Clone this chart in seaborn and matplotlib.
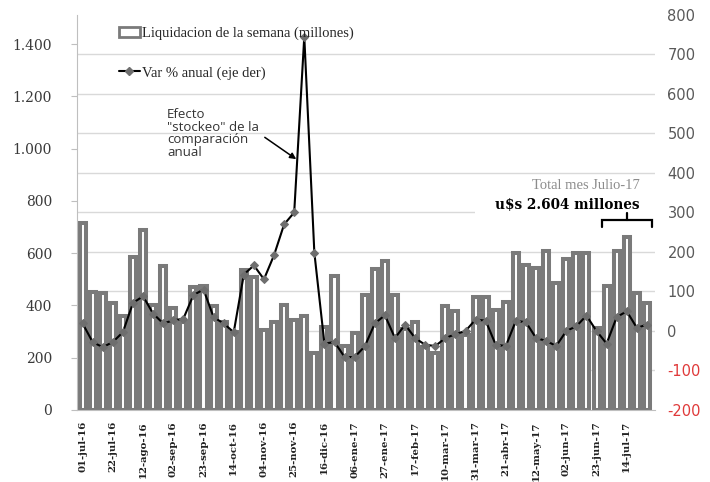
import numpy as np
import pandas as pd
import matplotlib
matplotlib.use("Agg")
import matplotlib.pyplot as plt
import seaborn as sns
from matplotlib.patches import Patch, Rectangle
from matplotlib.lines import Line2D
from matplotlib.transforms import blended_transform_factory

# ---------------- data ----------------
liquidacion = [715, 453, 449, 408, 360, 587, 689, 402, 551, 391,
               338, 472, 474, 399, 338, 300, 536, 510, 306, 338,
               402, 344, 360, 217, 319, 513, 245, 294, 440, 540,
               570, 440, 310, 335, 242, 217, 398, 379, 287, 434,
               434, 383, 414, 602, 555, 545, 608, 485, 578, 602,
               600, 313, 476, 608, 663, 449, 408]
var_anual = [19, -28, -41, -28, -3, 71, 88, 44, 19, 27,
             31, 91, 105, 35, 19, -3, 143, 166, 131, 192,
             270, 300, 745, 198, -32, -28, -66, -66, -39, 19,
             40, -18, 16, -18, -35, -38, -18, -8, 0, 29,
             26, -35, -38, 26, 22, -18, -25, -38, 0, 12,
             39, 0, -32, 35, 50, 8, 16]
tick_labels = ["01-jul-16", "22-jul-16", "12-ago-16", "02-sep-16", "23-sep-16",
               "14-oct-16", "04-nov-16", "25-nov-16", "16-dic-16", "06-ene-17",
               "27-ene-17", "17-feb-17", "10-mar-17", "31-mar-17", "21-abr-17",
               "12-may-17", "02-jun-17", "23-jun-17", "14-jul-17"]
left_ticks = [0, 200, 400, 600, 800, 1000, 1200, 1400]
right_ticks = [-200, -100, 0, 100, 200, 300, 400, 500, 600, 700, 800]
julio_first, julio_last = 52, 56

semanas = list(range(len(liquidacion)))
df = pd.DataFrame({"semana": semanas, "liq": liquidacion, "var": var_anual})

# ---------------- figure ----------------
sns.set_style("white")
plt.rcParams["font.family"] = ["DejaVu Serif"]
fig = plt.figure(figsize=(7.1, 4.82), dpi=100)
ax = fig.add_axes([0.1085, 0.1494, 0.814, 0.8195])
ax2 = ax.twinx()

grid_c = "#d9d9d9"
bar_edge = "#7a7a7a"

sns.barplot(data=df, x="semana", y="liq", ax=ax, color="white", saturation=1,
            edgecolor=bar_edge, linewidth=2.9, width=0.6, zorder=2)
sns.lineplot(x=df["semana"], y=df["var"], ax=ax2, color="black", lw=1.5,
             marker="D", markersize=3.6, markerfacecolor="#6e6e6e",
             markeredgecolor="#6e6e6e", zorder=5)

ax.set_xlim(-0.55, 56.8)
ax.set_ylim(0, 1511)
ax2.set_ylim(-200, 800)
ax2.patch.set_visible(False)

# gridlines (right axis values), behind the bars
btr = blended_transform_factory(ax.transAxes, ax2.transData)
for r in right_ticks[1:-1]:
    ax.plot([0, 1], [r, r], transform=btr, color=grid_c, lw=1.0, zorder=0)

# white box behind the July total text
bdx = blended_transform_factory(ax.transData, ax2.transData)
ax.add_patch(Rectangle((38.9, 288), 20, 96, transform=bdx, facecolor="white",
                       edgecolor="none", zorder=0.5, clip_on=False))

# axes styling
for s in ["top", "right"]:
    ax.spines[s].set_visible(False)
for s in ax2.spines.values():
    s.set_visible(False)
ax.spines["left"].set_color("#bfbfbf")
ax.spines["bottom"].set_color("#bfbfbf")

ax.set_yticks(left_ticks)
ax.set_yticklabels([f"{v:,}".replace(",", ".") for v in left_ticks],
                   fontsize=10, color="#3a3a3a", family="DejaVu Serif")
ax.tick_params(axis="y", length=4, color="#bfbfbf", pad=14, direction="out")

ax.set_xticks(list(range(0, 3 * len(tick_labels), 3)))
ax.set_xticklabels(tick_labels, rotation=90, fontsize=7.3, fontweight="bold",
                   color="#222222", family="DejaVu Serif", va="top", ha="center")
ax.tick_params(axis="x", length=0, pad=8)
ax.set_xlabel("")
ax.set_ylabel("")

ax2.set_yticks(right_ticks)
ax2.set_yticklabels([str(v) for v in right_ticks], fontsize=10.5,
                    family="DejaVu Sans")
for lab, v in zip(ax2.get_yticklabels(), right_ticks):
    lab.set_color("#e03a3a" if v < 0 else "#595959")
ax2.tick_params(axis="y", length=0, pad=9)
ax2.set_xlabel("")
ax2.set_ylabel("")

# legend
handles = [Patch(facecolor="white", edgecolor=bar_edge, linewidth=2),
           Line2D([0], [0], color="black", lw=1.5, marker="D", markersize=3.6,
                  markerfacecolor="#6e6e6e", markeredgecolor="#6e6e6e")]
labels = ["Liquidacion de la semana (millones)", "Var % anual (eje der)"]
fig.legend(handles, labels, loc="upper left", bbox_to_anchor=(0.168, 0.945),
           frameon=False, labelspacing=1.8, handlelength=1.4, handletextpad=0.15,
           borderaxespad=0, borderpad=0, labelcolor="#262626",
           prop={"family": "Liberation Serif", "size": 10.5})

# annotation
ax2.annotate("Efecto\n\"stockeo\" de la\ncomparación\nanual",
             xy=(21.2, 435), xytext=(8.4, 564), textcoords="data",
             ha="left", va="top", fontsize=9.5, family="Open Sans",
             color="#333333", linespacing=0.95,
             arrowprops=dict(arrowstyle="-|>", color="black", lw=1.1,
                             shrinkA=2, shrinkB=0, mutation_scale=9,
                             relpos=(1.0, 0.5)))

# July total
ax2.text(55.3, 368, "Total mes Julio-17", ha="right", va="center",
         fontsize=10.5, family="Liberation Serif", color="#8c8c8c", zorder=6)
ax2.text(55.3, 318, "u$s 2.604 millones", ha="right", va="center",
         fontsize=9.8, fontweight="bold", family="DejaVu Serif", color="black",
         zorder=6)
# bracket over July weeks
bx0, bx1 = julio_first - 0.5, julio_last + 0.5
bmid = (bx0 + bx1) / 2
ax2.plot([bx0, bx0, bx1, bx1], [262, 282, 282, 262], color="black", lw=1.6,
         solid_joinstyle="miter", clip_on=False, zorder=6)
ax2.plot([bmid, bmid], [282, 298], color="black", lw=1.6, clip_on=False, zorder=6)

fig.savefig("out.png", dpi=100)
